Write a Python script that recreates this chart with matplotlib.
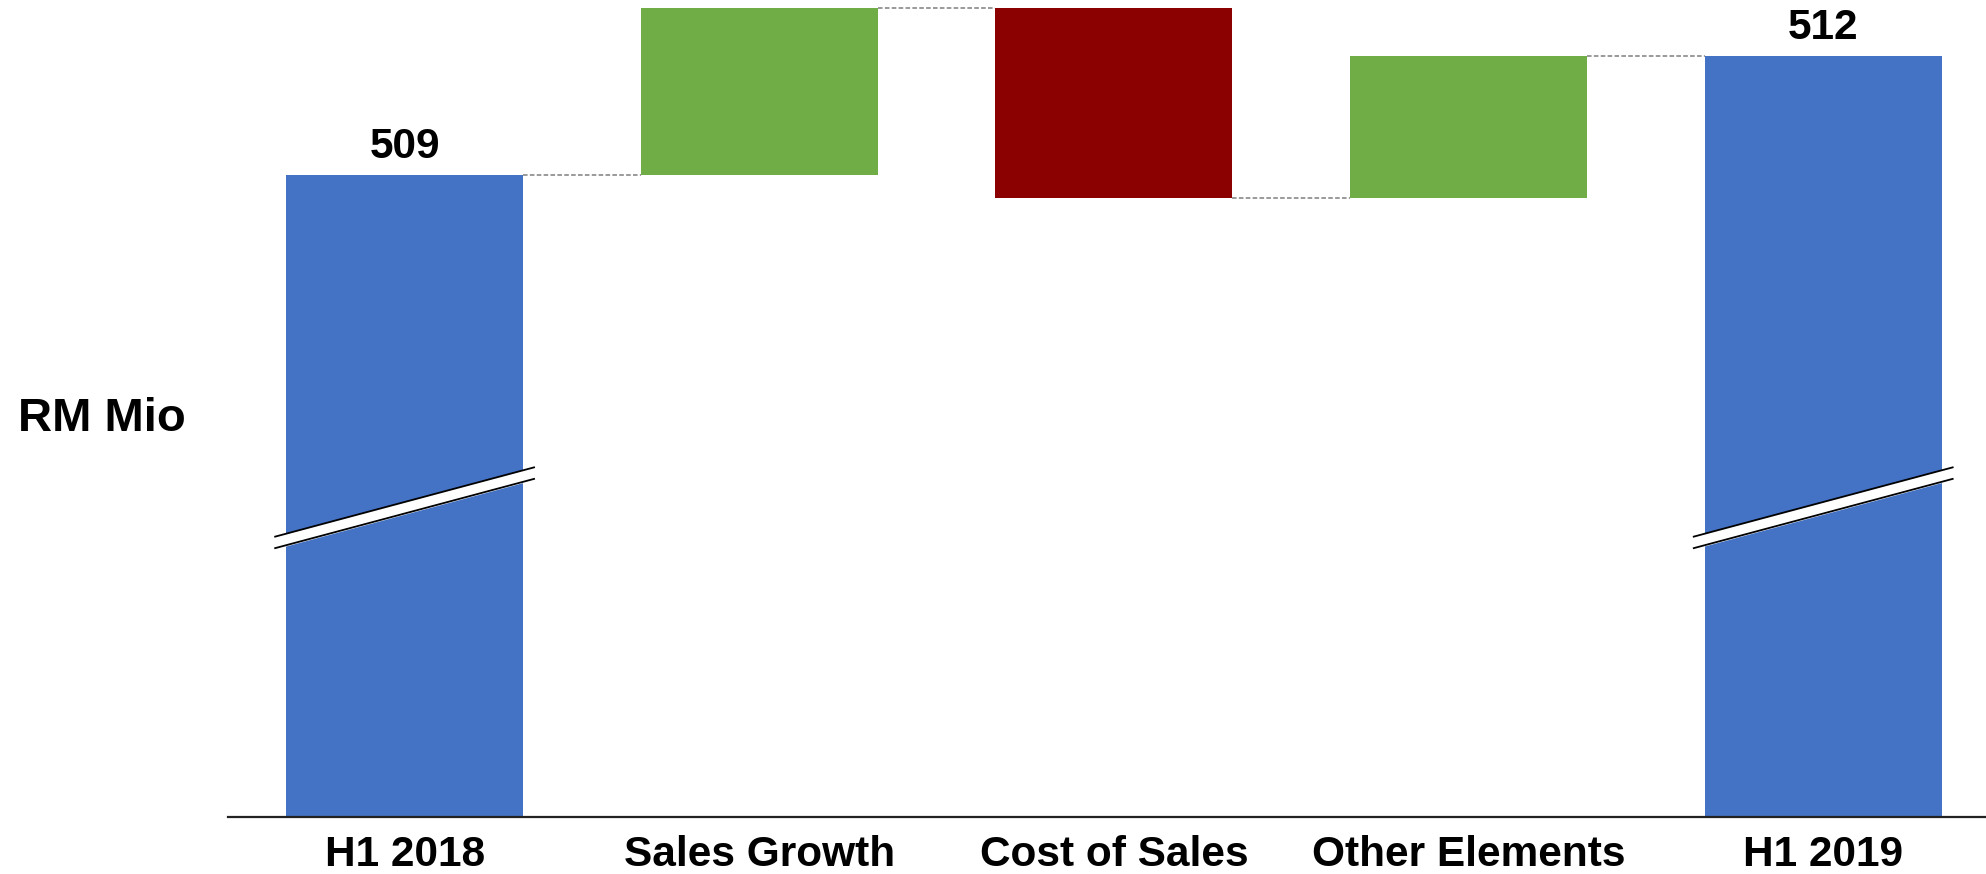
import matplotlib
matplotlib.use("Agg")
import matplotlib.pyplot as plt
import numpy as np

plt.rcParams['font.family'] = ['Liberation Sans', 'DejaVu Sans']
plt.rcParams['font.weight'] = 'bold'

# data
categories = ["H1 2018", "Sales Growth", "Cost of Sales", "Other Elements", "H1 2019"]
start_value = 509
deltas = [4.2, -4.8, 3.6]
end_value = 512

blue = "#4472C4"
green = "#70AD47"
red = "#8B0000"

fig = plt.figure(figsize=(19.86, 8.74), dpi=100)
ax = fig.add_axes([0.1148, 0.0652, 0.8852, 0.9348])

x = np.arange(len(categories))
w = 0.668

# running levels
levels = [start_value]
for d in deltas:
    levels.append(levels[-1] + d)

# total bars
ax.bar(x[0], start_value, w, color=blue)
ax.bar(x[-1], end_value, w, color=blue)

# delta bars
for i, d in enumerate(deltas):
    ax.bar(x[i + 1], d, w, bottom=levels[i], color=green if d > 0 else red)

# connectors
conn_levels = levels[:]
conn_levels[-1] = end_value
for i in range(len(categories) - 1):
    ax.plot([x[i] + w / 2, x[i + 1] - w / 2], [conn_levels[i], conn_levels[i]],
            ls=(0, (3, 1.5)), color="#7f7f7f", lw=1.1)

# value labels
ax.text(x[0], start_value + 0.2, str(start_value), ha="center", va="bottom",
        fontsize=30.5, fontweight="bold")
ax.text(x[-1], end_value + 0.2, str(end_value), ha="center", va="bottom",
        fontsize=30.5, fontweight="bold")

# axis break marks on the total bars
yc = 500.61
gap = 0.29
k = 2.39
ext = 0.031
for xc in [x[0], x[-1]]:
    xs = np.array([xc - w / 2 - ext, xc + w / 2 + ext])
    top = yc + gap / 2 + k * (xs - xc)
    bot = yc - gap / 2 + k * (xs - xc)
    ax.fill_between(xs, bot, top, color="white", zorder=3)
    ax.plot(xs, top, color="black", lw=1.3, zorder=4)
    ax.plot(xs, bot, color="black", lw=1.3, zorder=4)

ax.set_xlim(-0.498, 4.459)
ax.set_ylim(492.82, 513.40)

for s in ["top", "right", "left"]:
    ax.spines[s].set_visible(False)
ax.spines["bottom"].set_linewidth(1.6)
ax.spines["bottom"].set_color("#222222")
ax.spines["bottom"].set_zorder(5)

ax.set_yticks([])
ax.set_xticks(x)
ax.set_xticklabels(categories, fontsize=30.5, fontweight="bold")
ax.tick_params(axis="x", length=0, pad=13)

fig.text(0.0089, 1 - 419 / 874, "RM Mio", ha="left", va="center",
         fontsize=34, fontweight="bold")

fig.savefig("out.png", dpi=100)
